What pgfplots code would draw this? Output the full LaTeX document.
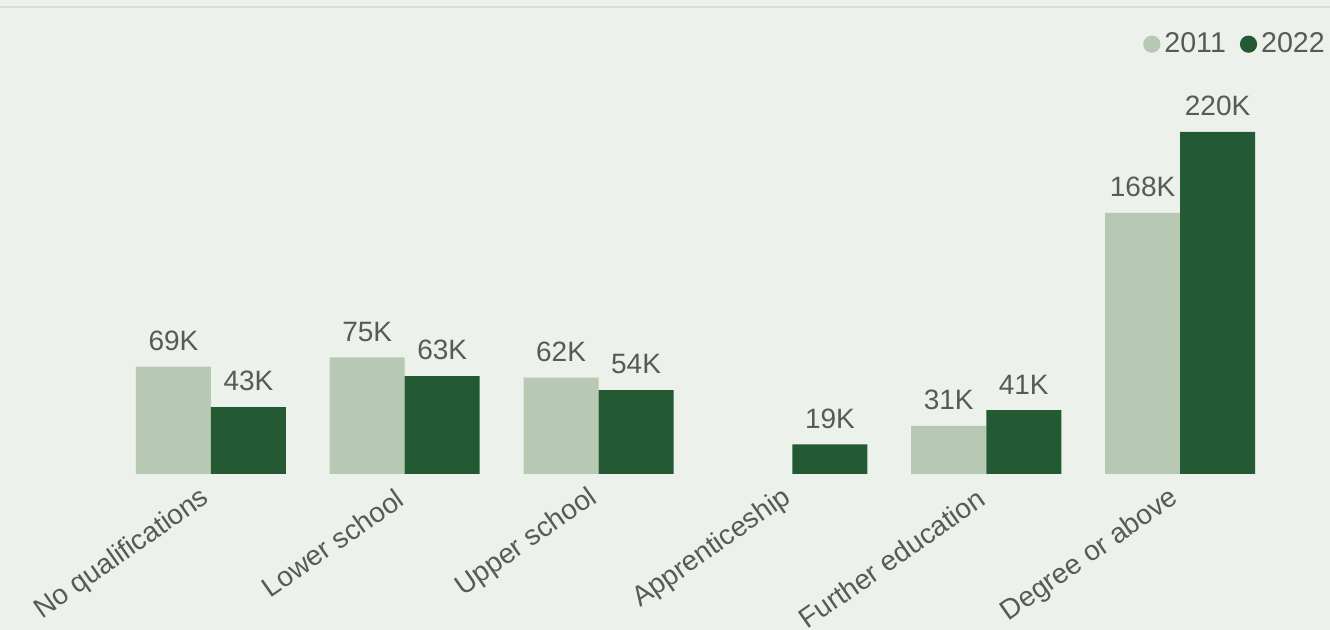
\documentclass[border=0pt]{standalone}
\usepackage{fontspec}
\setmainfont{Liberation Sans}
\usepackage{pgfplots}
\pgfplotsset{compat=1.18}
\definecolor{bg}{HTML}{ECF1EB}
\definecolor{topband}{HTML}{EFF0EB}
\definecolor{shadow}{HTML}{D9DDD7}
\definecolor{light}{HTML}{B7C9B3}
\definecolor{dark}{HTML}{235A33}
\definecolor{txt}{HTML}{595959}

\begin{document}
\begin{tikzpicture}
\useasboundingbox (0pt,0pt) rectangle (665pt,315pt);
\fill[bg] (0pt,0pt) rectangle (665pt,315pt);
\fill[topband] (0pt,312pt) rectangle (665pt,315pt);
\fill[shadow] (0pt,311pt) rectangle (665pt,312.2pt);
\begin{axis}[
    at={(57pt,78pt)}, anchor=south west,
    scale only axis,
    width=581.5pt, height=186.6pt,
    ybar=0pt, bar width=37.5pt,
    xmin=-0.5, xmax=5.5, ymin=0, ymax=240,
    enlarge x limits=false, enlarge y limits=false,
    xtick={0,...,5},
    xticklabels={No qualifications, Lower school, Upper school, Apprenticeship, Further education, Degree or above},
    x tick label style={rotate=35, anchor=east, font=\fontsize{14}{16}\selectfont, text=txt, yshift=-7.5pt, xshift=-4.5pt},
    ytick=\empty,
    major tick length=0pt,
    axis line style={draw=none},
    /pgf/number format/assume math mode=true,
    nodes near coords={\pgfmathprintnumber{\pgfplotspointmeta}K},
    every node near coord/.append style={font=\fontsize{14}{16}\selectfont, text=txt, yshift=4.5pt},
    legend style={at={(1.05,1.205)}, anchor=north east, draw=none, fill=none,
        legend columns=2, font=\fontsize{14.3}{16}\selectfont, text=txt,
        /tikz/every even column/.append style={column sep=5pt},
        legend cell align=left},
    legend image code/.code={\fill[#1] (2pt,0pt) circle (4.3pt);},
]
\addplot[fill=light, draw=none] coordinates {(0,69) (1,75) (2,62) (4,31) (5,168)};
\addplot[fill=dark, draw=none] coordinates {(0,43) (1,63) (2,54) (3,19) (4,41) (5,220)};
\legend{2011,2022}
\end{axis}
\end{tikzpicture}
\end{document}
